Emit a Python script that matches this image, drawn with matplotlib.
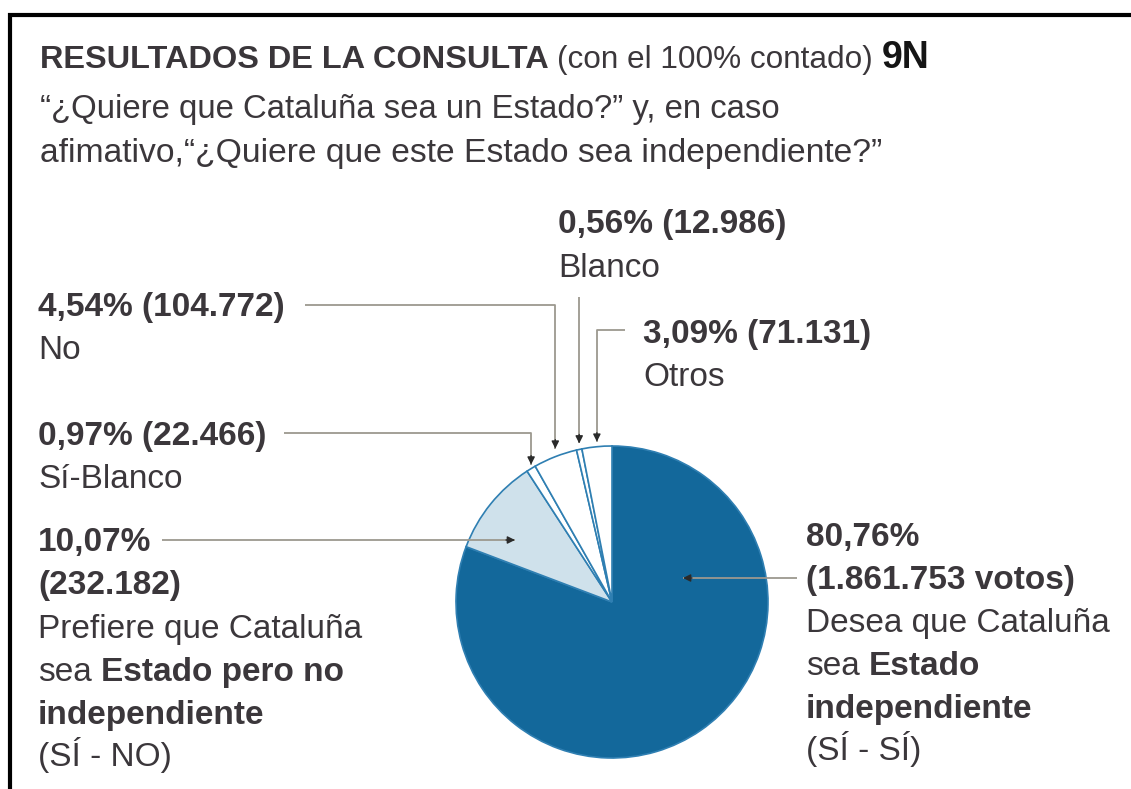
import matplotlib.pyplot as plt
import math

plt.rcParams['font.family'] = ['Liberation Sans', 'DejaVu Sans']

W, H = 1131, 789

# datos de la consulta 9N
etiquetas = ['Sí-Sí', 'Sí-No', 'Sí-Blanco', 'No', 'Blanco', 'Otros']
porcentajes = [80.76, 10.07, 0.97, 4.54, 0.56, 3.09]
votos = ['1.861.753', '232.182', '22.466', '104.772', '12.986', '71.131']
colores = ['#13689b', '#cfe1eb', 'white', 'white', 'white', 'white']

GRIS = '#3b373b'
LINEA = '#9c988f'
PUNTA = '#2a2a2a'


def pct(i):
    return f"{porcentajes[i]:.2f}".replace('.', ',') + '%'


def texto_voto(i):
    return f'{pct(i)} ({votos[i]})'


fig = plt.figure(figsize=(W / 100, H / 100), dpi=100)
ax = fig.add_axes([0, 0, 1, 1])

cx, cy, radio = 612, H - 602, 156
cuñas, _ = ax.pie(porcentajes, colors=colores, startangle=90, counterclock=False,
                  center=(cx, cy), radius=radio,
                  wedgeprops=dict(edgecolor='#2f7fb2', linewidth=1.2))
ax.set_xlim(0, W)
ax.set_ylim(0, H)
ax.set_aspect('auto')
ax.axis('off')

r = fig.canvas.get_renderer()


def ancho(texto, size, peso):
    t = ax.text(0, 0, texto, fontsize=size, fontweight=peso)
    w = t.get_window_extent(renderer=r).width
    t.remove()
    return w


def linea(x, y, piezas, size=24):
    # piezas: (texto, peso[, tamaño, color]); un ' ' solo avanza un espacio
    for p in piezas:
        texto, peso = p[0], p[1]
        tam = p[2] if len(p) > 2 else size
        col = p[3] if len(p) > 3 else GRIS
        if texto.strip():
            ax.text(x, H - y, texto, fontsize=tam, fontweight=peso, color=col,
                    va='baseline', ha='left')
            x += ancho(texto, tam, peso)
        else:
            x += ancho('a a', tam, peso) - ancho('aa', tam, peso)


def borde(theta):
    return cx + radio * math.cos(math.radians(theta)), cy + radio * math.sin(math.radians(theta))


def medio(i):
    w = cuñas[i]
    return (w.theta1 + w.theta2) / 2


def flecha(puntos):
    xs = [p[0] for p in puntos]
    ys = [H - p[1] for p in puntos]
    ax.plot(xs, ys, color=LINEA, lw=1.3, solid_capstyle='butt', zorder=5)
    x1, y1 = xs[-1], ys[-1]
    x0, y0 = xs[-2], ys[-2]
    d = ((x1 - x0) ** 2 + (y1 - y0) ** 2) ** 0.5
    ux, uy = (x1 - x0) / d, (y1 - y0) / d
    ax.annotate('', xy=(x1, y1), xytext=(x1 - 9 * ux, y1 - 9 * uy),
                arrowprops=dict(arrowstyle='-|>', color=PUNTA, lw=1,
                                mutation_scale=11, shrinkA=0, shrinkB=0), zorder=6)


# marco
ax.plot([8, W], [H - 15, H - 15], color='black', lw=3, solid_capstyle='butt')
ax.plot([10, 10], [H - 13, 0], color='black', lw=3, solid_capstyle='butt')

# titulo
linea(40, 68, [('RESULTADOS DE LA CONSULTA', 'bold', 23.4, '#3a363a'),
               (' ', 'normal', 22.5),
               ('(con el 100% contado)', 'normal', 22.7),
               (' ', 'normal', 22.5),
               ('9N', 'bold', 27, '#151515')])
linea(40, 118, [('“¿Quiere que Cataluña sea un Estado?” y, en caso', 'normal')], size=23.7)
linea(40, 162, [('afimativo,“¿Quiere que este Estado sea independiente?”', 'normal')], size=24.2)

# etiquetas
linea(558, 233, [(texto_voto(4), 'bold')])
linea(558, 277, [('Blanco', 'normal')])
linea(38, 316, [(texto_voto(3), 'bold')])
linea(38, 359, [('No', 'normal')])
linea(643, 343, [(texto_voto(5), 'bold')])
linea(643, 386, [('Otros', 'normal')])
linea(38, 445, [(texto_voto(2), 'bold')])
linea(38, 488, [('Sí-Blanco', 'normal')])

linea(38, 551, [(pct(1), 'bold')])
linea(38, 594, [(f'({votos[1]})', 'bold')])
linea(38, 638, [('Prefiere que Cataluña', 'normal')])
linea(38, 681, [('sea', 'normal'), (' ', 'normal'), ('Estado pero no', 'bold')])
linea(38, 724, [('independiente', 'bold')])
linea(38, 766, [('(SÍ - NO)', 'normal')])

linea(806, 546, [(pct(0), 'bold')])
linea(806, 589, [(f'({votos[0]} votos)', 'bold')])
linea(806, 632, [('Desea que Cataluña', 'normal')])
linea(806, 675, [('sea', 'normal'), (' ', 'normal'), ('Estado', 'bold')])
linea(806, 718, [('independiente', 'bold')])
linea(806, 760, [('(SÍ - SÍ)', 'normal')])

# flechas
x_no, y_no = borde(medio(3))
flecha([(305, 305), (x_no, 305), (x_no, H - y_no - 8)])
x_sb, y_sb = borde(medio(2))
flecha([(284, 433), (x_sb, 433), (x_sb, H - y_sb - 4)])
x_bl, y_bl = borde(medio(4))
flecha([(x_bl, 297), (x_bl, H - y_bl - 6)])
x_ot, y_ot = borde(medio(5))
flecha([(625, 330), (x_ot, 330), (x_ot, H - y_ot - 5)])
flecha([(162, 540), (515, 540)])
flecha([(797, 578), (683, 578)])

fig.savefig('out.png', dpi=100)
